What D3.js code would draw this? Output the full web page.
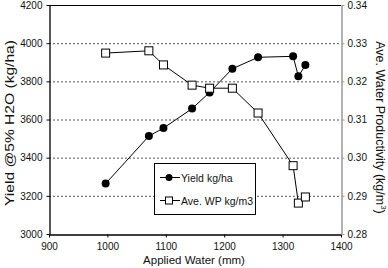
<!DOCTYPE html>
<html><head><meta charset="utf-8">
<script src="https://cdn.jsdelivr.net/npm/d3@7"></script>
<style>body{margin:0;background:#fff}svg{display:block}text{font-family:"Liberation Sans",Arial,sans-serif;fill:#111}</style>
</head><body><svg id="c" width="388" height="268"></svg>
<script>
const appliedWater = [997, 1071, 1096, 1145, 1175, 1214, 1258, 1318, 1327, 1339];
const yieldKgHa    = [3264, 3513, 3555, 3657, 3742, 3866, 3926, 3931, 3826, 3885];
const avgWP        = [0.3274, 0.3280, 0.3243, 0.3190, 0.3182, 0.3182, 0.3117, 0.2979, 0.2881, 0.2897];
const xTicks = [900, 1000, 1100, 1200, 1300, 1400];
const yTicks = [3000, 3200, 3400, 3600, 3800, 4000, 4200];
const y2Ticks = [0.28, 0.29, 0.30, 0.31, 0.32, 0.33, 0.34];

const svg = d3.select("#c");
const L = 49, R = 341, T = 5, B = 234;
const x = d3.scaleLinear().domain([900, 1400]).range([L, R]);
const y = d3.scaleLinear().domain([3000, 4200]).range([B, T]);
const y2 = d3.scaleLinear().domain([0.28, 0.34]).range([B, T]);

// gridlines
svg.append("g").selectAll("line").data(yTicks.filter(d => d > 3000 && d < 4200)).join("line")
  .attr("x1", L).attr("x2", R).attr("y1", d => y(d) + 0.5).attr("y2", d => y(d) + 0.5)
  .attr("stroke", "#555").attr("stroke-width", 1).attr("stroke-dasharray", "2,2");

// top border
svg.append("line").attr("x1", L).attr("x2", R).attr("y1", T + 0.5).attr("y2", T + 0.5).attr("stroke", "#000");

// axes
const gx = svg.append("g").attr("transform", `translate(0,${B + 0.5})`)
  .call(d3.axisBottom(x).tickValues(xTicks).tickFormat(d3.format("d")).tickSize(3).tickSizeOuter(0).tickPadding(5));
const gy = svg.append("g").attr("transform", `translate(${L + 0.5},0)`)
  .call(d3.axisLeft(y).tickValues(yTicks).tickFormat(d3.format("d")).tickSize(3).tickSizeOuter(0).tickPadding(4));
const gy2 = svg.append("g").attr("transform", `translate(${R + 0.5},0)`)
  .call(d3.axisRight(y2).tickValues(y2Ticks).tickFormat(d3.format(".2f")).tickSize(3).tickSizeOuter(0).tickPadding(3));
[gx, gy].forEach(g => { g.selectAll("path,line").attr("stroke", "#000"); });
gy2.selectAll("path,line").attr("stroke", "#999");
svg.selectAll(".tick text").style("font-size", "10px").attr("fill", "#222");
gx.select("path").attr("stroke-width", 1.3);
gy.select("path").attr("stroke-width", 1.3);
gy2.select("path").attr("stroke-width", 1.5);

// axis titles
svg.append("text").attr("x", 194).attr("y", 264).attr("text-anchor", "middle")
  .style("font-size", "11.5px").text("Applied Water (mm)");
svg.append("text").attr("transform", `translate(14,123) rotate(-90)`).attr("text-anchor", "middle")
  .attr("textLength", 166).attr("lengthAdjust", "spacingAndGlyphs")
  .style("font-size", "12.5px").text("Yield @5% H2O (kg/ha)");
const rt = svg.append("text").attr("transform", `translate(376,${(T + B) / 2 + 8}) rotate(90)`).attr("text-anchor", "middle")
  .style("font-size", "12.5px");
rt.append("tspan").text("Ave. Water Productivity (kg/m");
rt.append("tspan").attr("dy", -5).style("font-size", "8px").text("3");
rt.append("tspan").attr("dy", 5).text(")");

// series
const yieldData = appliedWater.map((w, i) => [w, yieldKgHa[i]]);
const wpData = appliedWater.map((w, i) => [w, avgWP[i]]);
svg.append("path").datum(yieldData).attr("fill", "none").attr("stroke", "#000").attr("stroke-width", 1)
  .attr("d", d3.line().x(d => x(d[0])).y(d => y(d[1])));
svg.append("path").datum(wpData).attr("fill", "none").attr("stroke", "#000").attr("stroke-width", 1)
  .attr("d", d3.line().x(d => x(d[0])).y(d => y2(d[1])));
svg.append("g").selectAll("circle").data(yieldData).join("circle")
  .attr("cx", d => x(d[0])).attr("cy", d => y(d[1])).attr("r", 4).attr("fill", "#000");
svg.append("g").selectAll("rect").data(wpData).join("rect")
  .attr("x", d => x(d[0]) - 4).attr("y", d => y2(d[1]) - 4).attr("width", 8).attr("height", 8)
  .attr("fill", "#fff").attr("stroke", "#000").attr("stroke-width", 1);

// legend
const lg = svg.append("g");
lg.append("rect").attr("x", 154.5).attr("y", 163.5).attr("width", 101).attr("height", 51)
  .attr("fill", "#fff").attr("stroke", "#000").attr("stroke-width", 1);
const legendItems = [{label: "Yield kg/ha", type: "circle", ly: 177.5}, {label: "Ave. WP kg/m3", type: "rect", ly: 200.5}];
legendItems.forEach(it => {
  lg.append("line").attr("x1", 160).attr("x2", 180).attr("y1", it.ly).attr("y2", it.ly).attr("stroke", "#000");
  if (it.type === "circle") lg.append("circle").attr("cx", 169).attr("cy", it.ly).attr("r", 3.5).attr("fill", "#000");
  else lg.append("rect").attr("x", 165.5).attr("y", it.ly - 3.5).attr("width", 7).attr("height", 7).attr("fill", "#fff").attr("stroke", "#000");
  lg.append("text").attr("x", 181).attr("y", it.ly + 4).style("font-size", "10.5px").text(it.label);
});
</script></body></html>
